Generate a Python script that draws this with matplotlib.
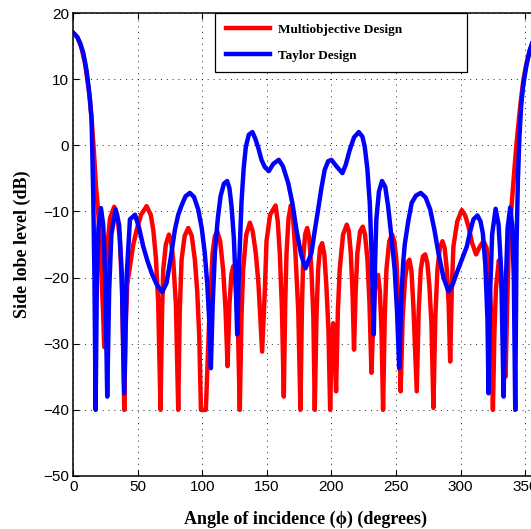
import matplotlib
matplotlib.use("Agg")
import matplotlib.pyplot as plt

# ---- data ----
red_angle = [0, 3, 6, 9, 12, 14, 16, 17.5, 19.4, 21.5, 23.2, 24, 25, 26.5, 28.5, 31.7, 34, 36, 37.8, 39.5,
             40.5, 41.8, 43.9, 46.5, 49.1, 52.5, 56.8, 60, 62, 64, 65.8, 67.6, 68.7, 69.7, 71.7, 74.1, 75.8,
             77.4, 79.5, 81.3, 82.5, 83.9, 86.3, 89.1, 91.8, 94.2, 96, 97.6, 98.9, 102.7, 104.2, 105.3, 107.9,
             109.6, 111.5, 113.8, 116.1, 118, 119.5, 121, 122.5, 123.9, 125.5, 127.5, 129.0, 130.3, 131.6, 134,
             136.8, 139, 141.4, 143.5, 146.3, 148.4, 149.7, 152.5, 156.7, 158.4, 160, 161.7, 163.1, 164.2, 165.2,
             166.8, 168.5, 170.3, 172.1, 174.3, 176.0, 177.1, 178.1, 179.6, 181.2, 182.8, 184.5, 186, 187.1,
             188.4, 189.7, 191.2, 192.8, 194.5, 196.1, 197.7, 199.0, 200.2, 201.3, 202.4, 203.6, 205, 206.4,
             209, 211.9, 213.5, 215, 216.3, 217.5, 218.8, 220.1, 222.2, 224.3, 226, 227.9, 229.5, 231, 232.5,
             234, 236.1, 237.5, 238.8, 240.0, 241.3, 242.6, 244.8, 247, 248.7, 250.3, 252, 253.6, 255.2, 257,
             258.7, 260.4, 262, 263.5, 266.1, 267.6, 269.2, 270.9, 272.6, 274.3, 275.9, 277.5, 279.0, 280.5,
             282.1, 284, 286, 287.7, 289.4, 290.8, 292, 293.2, 294.5, 297.5, 301, 303.6, 306.2, 309, 312.1,
             315, 317.8, 320.2, 322, 323.6, 325.1, 326.3, 327.5, 329.7, 331.2, 332.6, 334.9, 336.2, 337.3,
             338.5, 340, 341.8, 343.5, 345.5, 347.2, 348.8, 351, 353.5, 356, 360]
red_level = [17.0, 16.4, 15.0, 12.5, 8.5, 4.5, -1.0, -6.0, -10.3, -18, -26, -30.5, -22, -15, -11, -9.3, -10.5,
             -14, -22, -40, -28, -21, -18.3, -15, -12.8, -10.5, -9.2, -10.5, -12.8, -17, -23.9, -40, -26,
             -18.8, -15, -13.5, -14.5, -17.3, -24, -40, -25, -17.3, -13.7, -12.5, -13.7, -17.3, -22, -28.9,
             -40, -40, -32, -26.4, -16.3, -13.8, -13, -14.5, -18.8, -25, -33.4, -24, -19.5, -18.3, -20, -27,
             -40, -26, -18.8, -13.5, -11.7, -13, -16.3, -21, -31.2, -22, -14.5, -10.5, -9.1, -11.5, -16.3, -25,
             -38, -24, -16.3, -11, -9.1, -11, -16.3, -25, -40, -25, -17.3, -13.5, -12.5, -14, -18.8, -26, -40,
             -26, -18.8, -15.5, -14.8, -16.5, -21.3, -28, -40, -30, -26.9, -30, -37.2, -25, -18.8, -13.5,
             -12.0, -13, -16.3, -22, -30.9, -22, -16.3, -13, -12.3, -13.5, -17.3, -24, -34.4, -26, -21, -19.6,
             -22, -28, -40, -26, -18.8, -14.5, -13.5, -14.5, -17.3, -24, -37.2, -26, -20.3, -17.8, -17.3, -19,
             -24.4, -37.2, -25, -18.8, -16.8, -16.5, -17.8, -21.3, -27, -39.7, -26, -18.8, -15.5, -14.5, -15.5,
             -18.8, -24, -32.7, -22, -15.3, -11.5, -9.8, -10.6, -12.3, -14.8, -16.5, -15.3, -14.5, -15.5, -19,
             -25, -40, -28, -21.5, -17.4, -19, -23, -35, -24, -16, -12, -8, -3.5, 0.5, 4.5, 7.5, 10, 12.3, 14.2,
             15.7, 17.0]

blue_angle = [0, 3, 5.2, 7.7, 10.3, 12.9, 14.2, 15.5, 16.4, 17.3, 18.3, 19.5, 21.4, 23.2, 24.8, 26.3, 27.8,
              29.5, 32.8, 35.5, 37.5, 39.5, 41.3, 43.9, 47.8, 51, 54.2, 57.5, 60.7, 64.5, 68.9, 72.3, 75.5, 78.7,
              81.3, 83.9, 87, 90.3, 93.5, 96.8, 99.5, 101.9, 103.8, 105.3, 106.6, 108, 109.7, 112, 114.1, 116.7,
              119.2, 121, 122.6, 124.4, 125.9, 127, 128.5, 130.3, 132, 133.7, 136, 138.8, 141, 143.5, 145.8,
              148.4, 151.5, 155, 159.2, 162.5, 166.5, 169.8, 172.9, 176.5, 179.9, 184.5, 187, 189.7, 192.2,
              194.8, 197.5, 200, 204, 208.5, 211, 214.2, 217.5, 221.2, 224, 225.8, 227.8, 229.7, 231.4, 232.8,
              233.8, 234.8, 236.8, 239.2, 241.7, 243.9, 246.3, 249, 250.8, 252.5, 254, 255.5, 256.8, 259.5,
              262.2, 265.5, 269.2, 273, 276.5, 279.8, 282.9, 286.8, 290.7, 294, 297.1, 301, 304.9, 307.5, 310,
              313.1, 315.5, 317.3, 319.2, 320.9, 321.7, 323, 324.5, 327.2, 329.5, 331.5, 333.4, 334.9, 336.5,
              338.5, 340, 341.3, 342.4, 343.4, 344.5, 345.7, 347, 348.5, 351, 353.5, 356.5, 360]
blue_level = [17.0, 16.4, 15.5, 14.0, 11.3, 7.0, 3.8, -8, -20, -40, -20, -12.5, -9.5, -12, -20, -38, -22,
              -13.5, -9.7, -12, -19, -37.5, -20, -11.2, -10.5, -12.5, -15.3, -17.5, -19.3, -21, -22.2, -20.8,
              -17, -12.8, -10.5, -9.1, -7.7, -7.2, -7.8, -9.7, -12.5, -16.3, -21, -26.4, -33.7, -24, -16.3, -11,
              -7.7, -5.8, -5.4, -6.5, -9.2, -14, -21.3, -28.6, -18, -8.7, -3.5, -0.2, 1.6, 2.0, 1.0, -0.5, -2.2,
              -3.3, -3.9, -2.8, -2.2, -3.2, -5.7, -8.8, -12.8, -16.5, -18.6, -16.3, -13, -9.7, -6.5, -3.7, -2.4,
              -2.2, -3.2, -4.2, -3.0, -0.7, 1.2, 2.0, 1.3, -0.2, -3.5, -8.7, -18, -28.6, -18, -11.2, -7, -5.4,
              -6.3, -9.2, -13.5, -18.8, -25, -33.7, -24, -18, -15, -11.5, -8.7, -7.6, -7.2, -7.9, -9.7, -12.8,
              -16.3, -20, -22.1, -21, -19.3, -17.3, -15.3, -13, -11.2, -10.6, -11.5, -13.3, -18, -26.4, -37.5,
              -22, -13.5, -9.6, -12, -19, -38, -22, -12.5, -9.4, -12, -20, -40, -15, -5, 1.5, 6, 9, 12, 14.3,
              16.0, 17.0]

labels = ["Multiobjective Design", "Taylor Design"]
x_ticks = [0, 50, 100, 150, 200, 250, 300, 350]
y_ticks = [-50, -40, -30, -20, -10, 0, 10, 20]

# ---- figure ----
fig = plt.figure(figsize=(5.31, 5.29), dpi=100)
ax = fig.add_axes([0.138, 0.1002, 0.8751, 0.8752])

ax.plot(red_angle, red_level, color="#ff0000", lw=3.2, label=labels[0], solid_joinstyle="round")
ax.plot(blue_angle, blue_level, color="#0000ff", lw=3.2, label=labels[1], solid_joinstyle="round")

ax.set_xlim(0, 360)
ax.set_ylim(-50, 20)
ax.set_xticks(x_ticks)
ax.set_yticks(y_ticks)

ax.grid(True, color="0.15", linewidth=0.7, linestyle=(0, (1, 5)))
ax.set_axisbelow(True)
for s in ax.spines.values():
    s.set_linewidth(1.1)

ax.tick_params(direction="in", length=4, width=0.8, top=True, right=True,
               labelsize=11, pad=3)
for lab in ax.get_xticklabels() + ax.get_yticklabels():
    lab.set_family("Liberation Sans")

ax.set_xlabel("Angle of incidence (\u03d5) (degrees)", family="Liberation Serif",
              fontweight="bold", fontsize=13, labelpad=12)
ax.set_ylabel("Side lobe level (dB)", family="Liberation Serif",
              fontweight="bold", fontsize=13, labelpad=9)

leg = ax.legend(loc="upper left", bbox_to_anchor=(0.305, 0.0, 0.542, 1.0), mode="expand",
                borderaxespad=0.0, fancybox=False, framealpha=1, edgecolor="black",
                handlelength=3.4, handletextpad=0.6, labelspacing=1.05, borderpad=0.8,
                prop={"family": "Liberation Serif", "weight": "bold", "size": 9.5})
leg.get_frame().set_linewidth(0.9)

fig.savefig("out.png", dpi=100)
